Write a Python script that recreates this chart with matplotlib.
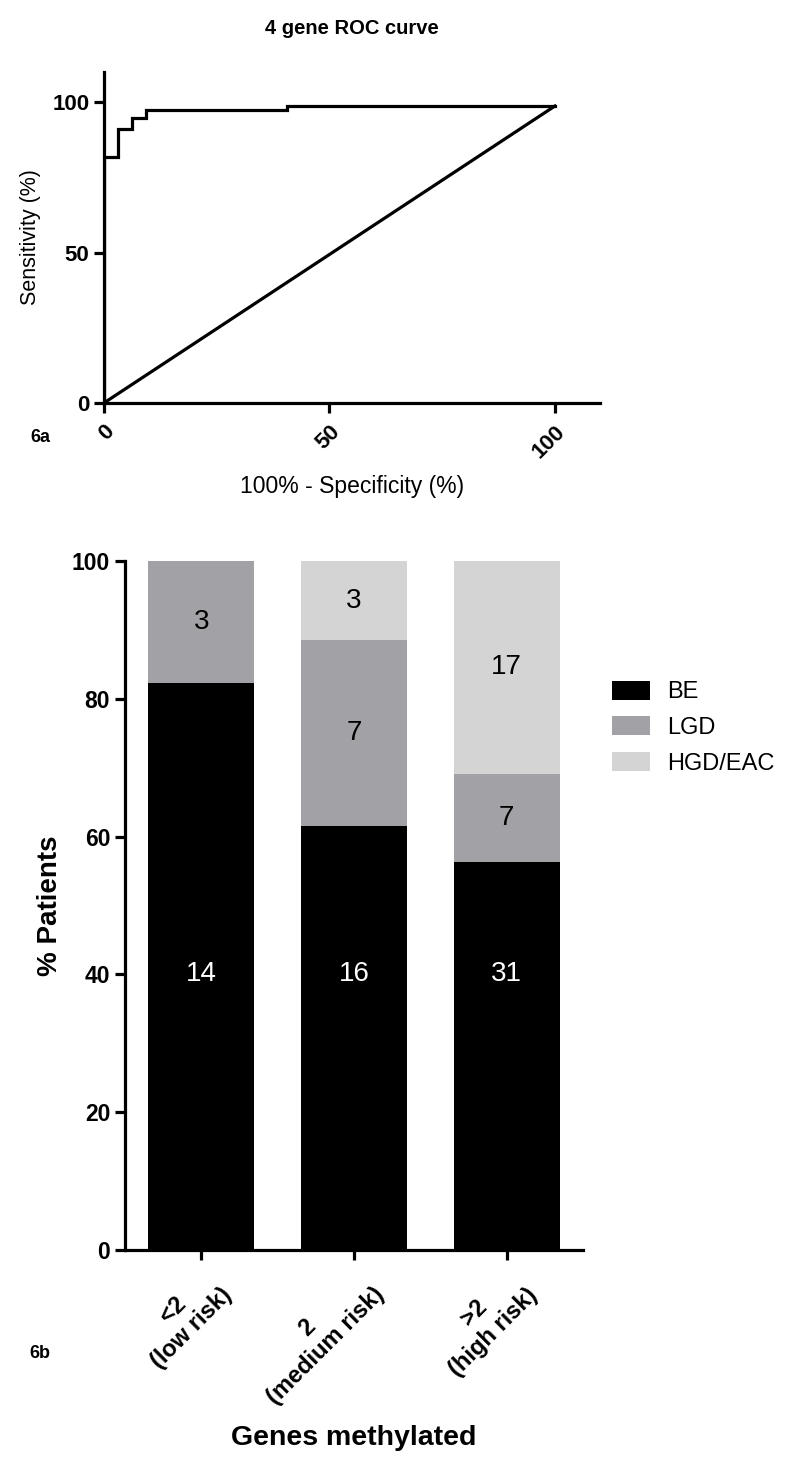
import matplotlib
matplotlib.use("Agg")
import matplotlib.pyplot as plt
import numpy as np

plt.rcParams['font.family'] = ['Liberation Sans', 'DejaVu Sans']

# ROC curve data (100% - specificity, sensitivity)
roc_fpr = [0, 0, 3.1, 3.1, 6.3, 6.3, 9.4, 9.4, 40.6, 40.6, 100]
roc_tpr = [0, 81.6, 81.6, 90.9, 90.9, 94.8, 94.8, 97.4, 97.4, 98.7, 98.7]
ref_x = [0, 100]
ref_y = [0, 98.7]
roc_xticks = [0, 50, 100]
roc_yticks = [0, 50, 100]

# Stacked bar data (patient counts)
groups = ['<2\n(low risk)', '2\n(medium risk)', '>2\n(high risk)']
be_counts = [14, 16, 31]
lgd_counts = [3, 7, 7]
hgd_counts = [0, 3, 17]
series_names = ['BE', 'LGD', 'HGD/EAC']
series_colors = ['#000000', '#a2a1a5', '#d4d4d4']
text_colors = ['white', 'black', 'black']
bar_yticks = [0, 20, 40, 60, 80, 100]

fig = plt.figure(figsize=(8, 14.7), dpi=100)

# ---------- 6a ROC ----------
ax1 = fig.add_axes([0.13, 0.7259, 0.62, 0.2251])
ax1.plot(roc_fpr, roc_tpr, color='black', lw=2.3, solid_joinstyle='miter')
ax1.plot(ref_x, ref_y, color='black', lw=2.3)
ax1.set_xlim(0, 110)
ax1.set_ylim(0, 110)
ax1.set_xticks(roc_xticks)
ax1.set_yticks(roc_yticks)
for s in ['top', 'right']:
    ax1.spines[s].set_visible(False)
for s in ['left', 'bottom']:
    ax1.spines[s].set_linewidth(2.3)
ax1.tick_params(width=2.3, length=7, labelsize=16)
ax1.tick_params(axis='x', pad=6)
for lab in ax1.get_yticklabels():
    lab.set_fontweight('bold')
for lab in ax1.get_xticklabels():
    lab.set_fontweight('bold')
    lab.set_rotation(45)
    lab.set_ha('right')
    lab.set_va('top')
    lab.set_rotation_mode('anchor')
ax1.set_title('4 gene ROC curve', fontsize=14.5, fontweight='bold', y=1.133, pad=0, va='center')
ax1.set_ylabel('Sensitivity (%)', fontsize=15.5, va='center')
ax1.yaxis.set_label_coords(-0.149, 0.5)
ax1.set_xlabel('100% - Specificity (%)', fontsize=16.5, va='center')
ax1.xaxis.set_label_coords(0.5, -0.254)
fig.text(40 / 800, 1 - 437 / 1470, '6a', fontsize=13, fontweight='bold', va='center', ha='center')

# ---------- 6b stacked bars ----------
ax2 = fig.add_axes([0.156, 0.1497, 0.573, 0.4687])
counts = np.array([be_counts, lgd_counts, hgd_counts], dtype=float)
totals = counts.sum(axis=0)
pct = counts / totals * 100
x = np.arange(len(groups))
bottom = np.zeros(len(groups))
for i, name in enumerate(series_names):
    ax2.bar(x, pct[i], width=0.69, bottom=bottom, color=series_colors[i],
            label=name, edgecolor='none')
    for j in range(len(groups)):
        if counts[i, j] > 0:
            if i == 0:
                ty = 40  # base-series label sits at a fixed height
            else:
                ty = bottom[j] + pct[i, j] / 2
            ax2.text(x[j], ty, f'{int(counts[i, j])}',
                     ha='center', va='center', fontsize=20, color=text_colors[i])
    bottom += pct[i]

ax2.set_xlim(-0.5, 2.5)
ax2.set_ylim(0, 100)
ax2.set_yticks(bar_yticks)
ax2.set_xticks(x)
ax2.set_xticklabels(groups)
for s in ['top', 'right']:
    ax2.spines[s].set_visible(False)
for s in ['left', 'bottom']:
    ax2.spines[s].set_linewidth(2.3)
ax2.tick_params(width=2.3, length=7, labelsize=16.5)
for lab in ax2.get_yticklabels():
    lab.set_fontweight('bold')
for lab in ax2.get_xticklabels():
    lab.set_fontweight('bold')
    lab.set_fontsize(17)
    lab.set_rotation(45)
    lab.set_ha('right')
    lab.set_va('top')
    lab.set_rotation_mode('anchor')
    lab.set_multialignment('center')
ax2.set_ylabel('% Patients', fontsize=20, fontweight='bold', va='center')
ax2.yaxis.set_label_coords(-0.163, 0.5)
ax2.set_xlabel('Genes methylated', fontsize=20.5, fontweight='bold', va='center')
ax2.xaxis.set_label_coords(0.5, -0.273)
fig.text(40 / 800, 1 - 1353 / 1470, '6b', fontsize=13, fontweight='bold', va='center', ha='center')

leg = ax2.legend(loc='upper left', bbox_to_anchor=(1.063, 0.826), frameon=False,
                 fontsize=17, handlelength=1.6, handleheight=0.85, labelspacing=0.55,
                 handletextpad=0.75, borderaxespad=0, borderpad=0)

fig.savefig('out.png', dpi=100)
